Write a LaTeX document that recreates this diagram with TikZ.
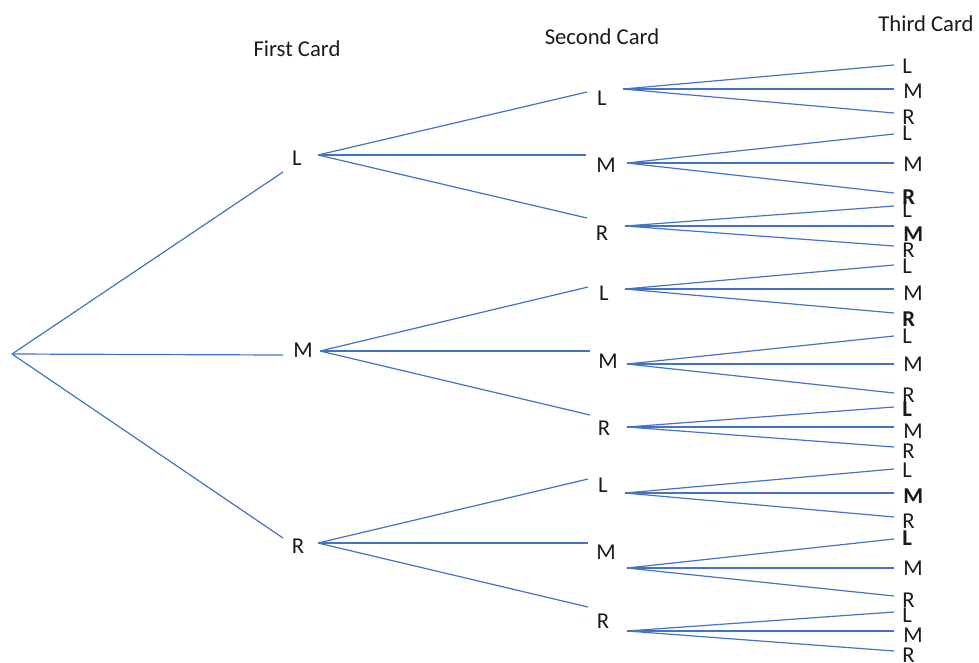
\documentclass[tikz,border=0pt]{standalone}
\usepackage{fontspec}
\setmainfont{Carlito}
\definecolor{brc}{HTML}{4472C4}
\definecolor{txt}{HTML}{1A1A1A}
\tikzset{
  lbl/.style={inner sep=0pt, text=txt, font=\fontsize{17}{20}\selectfont},
  leaf/.style={lbl, anchor=west},
  brline/.style={draw=brc, line width=0.9pt}
}
\begin{document}
\begin{tikzpicture}[x=0.75pt,y=-0.75pt]
\useasboundingbox (0,0) rectangle (979,662);
% headings
\node[lbl] (h1) at (297,49) {First Card};
\node[lbl] (h2) at (602,37) {Second Card};
\node[lbl] (h3) at (926,24) {Third Card};
% root
\coordinate (root) at (12,354);
% first level
\foreach \nm/\tx/\ex/\ey/\lx/\ly/\sx/\sy in {
  fL/L/283/172/297/158/318/155,
  fM/M/283/355/303/350/320/351,
  fR/R/283/538/298/546/318/543}{
  \coordinate (\nm-e) at (\ex,\ey);
  \node[lbl] (\nm) at (\lx,\ly) {\tx};
  \coordinate (\nm-s) at (\sx,\sy);
  \draw[brline] (root) -- (\nm-e);
}
% second level
\foreach \pp/\nm/\tx/\ex/\ey/\lx/\ly/\sx/\sy in {
  fL/aL/L/587/92/602/98/623/89,
  fL/aM/M/586/155/606/165/627/163,
  fL/aR/R/587/218/602/233/625/226,
  fM/bL/L/588/287/604/293/625/289,
  fM/bM/M/590/351/608/361/627/364,
  fM/bR/R/590/415/604/428/627/427,
  fR/cL/L/588/479/603/485/625/493,
  fR/cM/M/588/543/606/552/627/568,
  fR/cR/R/588/607/603/621/627/631}{
  \coordinate (\nm-e) at (\ex,\ey);
  \node[lbl] (\nm) at (\lx,\ly) {\tx};
  \coordinate (\nm-s) at (\sx,\sy);
  \draw[brline] (\pp-s) -- (\nm-e);
}
% third level
\foreach \p/\ya/\yb/\yc/\la/\lb/\lc/\ta/\tb/\tc in {
  aL/65/89/113/66/91/117/L/M/R,
  aM/134/163/193/133/164/197/L/M/\textbf{R},
  aR/206/226/246/210/234/250/L/\textbf{M}/R,
  bL/265/289/313/266/293/319/L/M/\textbf{R},
  bM/336/364/393/336/364/395/L/M/R,
  bR/407/427/447/409/431/451/\textbf{L}/M/R,
  cL/469/493/517/470/496/521/L/\textbf{M}/R,
  cM/539/568/596/538/568/600/\textbf{L}/M/R,
  cR/612/631/651/615/635/655/L/M/R}{
  \coordinate (\p-a) at (894,\ya);
  \coordinate (\p-b) at (894,\yb);
  \coordinate (\p-c) at (894,\yc);
  \node[leaf] (\p-la) at (902,\la) {\ta};
  \node[leaf] (\p-lb) at (903,\lb) {\tb};
  \node[leaf] (\p-lc) at (902,\lc) {\tc};
  \draw[brline] (\p-s) -- (\p-a);
  \draw[brline] (\p-s) -- (\p-b);
  \draw[brline] (\p-s) -- (\p-c);
}
\end{tikzpicture}
\end{document}
